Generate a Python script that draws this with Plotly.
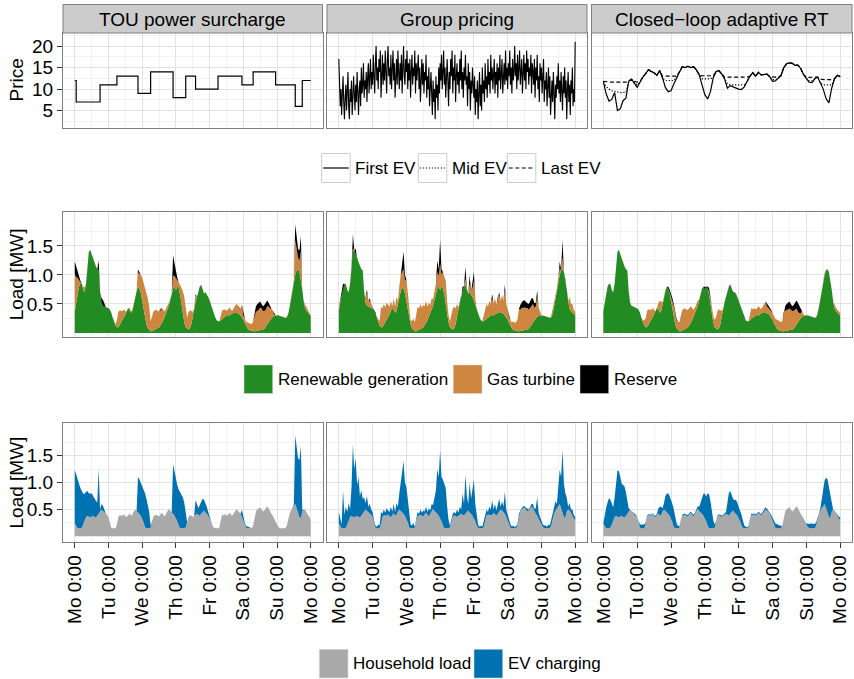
import plotly.graph_objects as go

# ---------------- data ----------------
HOURS = list(range(169))               # hourly time index (Mo 0:00 .. next Mo 0:00)
HALF_HOURS = [i / 2 for i in range(337)]  # half-hourly index for group pricing
HOURS_2H = list(range(0, 169, 2))      # 2-hourly index for closed-loop prices
DAY_TICKS = [0, 24, 48, 72, 96, 120, 144, 168]
DAY_LABELS = ["Mo 0:00", "Tu 0:00", "We 0:00", "Th 0:00", "Fr 0:00", "Sa 0:00", "Su 0:00", "Mo 0:00"]
PANEL_TITLES = ["TOU power surcharge", "Group pricing", "Closed\u2212loop adaptive RT"]

# TOU surcharge: step levels starting at given hours
TOU_STEP_HOURS = [0, 1, 18, 30, 45, 54, 70, 79, 86, 102, 119, 127, 143, 157, 162, 168]
TOU_STEP_PRICES = [12, 7, 11, 13, 9, 14, 8, 13, 10, 13, 11, 14, 11, 6, 12, 12]

GROUP_PRICE = [
    17, 12, 6, 10, 4, 9, 13, 7, 3, 8, 11, 5, 9, 14, 6, 3, 10, 7, 12, 4, 8, 13, 9, 5,
    11, 7, 14, 9, 4, 10, 12, 6, 15, 9, 11, 16, 8, 12, 10, 14, 7, 13, 16, 9, 12, 17, 10, 14,
    11, 18, 13, 9, 16, 20, 12, 15, 10, 17, 14, 19, 8, 13, 18, 11, 16, 12, 19, 14, 9, 17, 20, 13,
    15, 11, 18, 10, 14, 19, 12, 16, 8, 13, 17, 11, 19, 14, 10, 16, 12, 18, 9, 15, 20, 13, 11, 17,
    14, 19, 10, 16, 12, 17, 8, 14, 18, 11, 15, 13, 19, 9, 16, 12, 14, 18, 10, 15, 7, 13, 17, 11,
    16, 9, 14, 12, 18, 8, 13, 10, 15, 6, 11, 14, 9, 4, 12, 7, 10, 3, 13, 8, 11, 5, 15, 9,
    16, 12, 18, 10, 14, 19, 11, 15, 8, 13, 17, 12, 6, 14, 10, 17, 13, 19, 9, 15, 12, 18, 7, 13,
    16, 11, 14, 9, 17, 12, 19, 10, 14, 8, 15, 12, 18, 11, 13, 6, 16, 10, 14, 5, 12, 9, 15, 11,
    8, 13, 4, 10, 7, 12, 3, 9, 14, 6, 11, 5, 15, 9, 12, 7, 16, 10, 13, 8, 17, 11, 14, 9,
    18, 12, 15, 10, 13, 17, 9, 14, 11, 16, 8, 15, 12, 18, 10, 14, 17, 9, 13, 16, 11, 19, 12, 15,
    10, 16, 13, 19, 11, 15, 9, 17, 12, 14, 20, 13, 16, 10, 18, 12, 15, 19, 11, 14, 17, 9, 13, 18,
    12, 16, 10, 19, 14, 17, 11, 15, 13, 18, 9, 16, 14, 11, 17, 8, 15, 12, 18, 10, 13, 7, 16, 12,
    15, 9, 13, 17, 7, 12, 10, 14, 6, 11, 15, 8, 13, 4, 10, 12, 7, 14, 9, 3, 11, 8, 13, 10,
    16, 9, 12, 7, 14, 11, 5, 13, 9, 15, 8, 12, 3, 10, 14, 7, 11, 4, 12, 9, 15, 6, 10, 7,
    21]

CLOSED_FIRST = [
    11.8, 8.9, 7.2, 7.6, 9.2, 5.0, 5.4, 7.3, 7.9, 11.8, 12.3, 11.2,
    10.4, 11.6, 12.8, 13.6, 14.5, 14.1, 13.8, 13.2, 14.3, 12.6, 10.4, 9.4,
    9.6, 11.2, 12.7, 14.0, 15.2, 15.0, 15.3, 15.0, 15.2, 14.5, 13.3, 11.0,
    8.7, 7.7, 9.4, 12.7, 14.1, 14.3, 13.5, 12.4, 10.2, 10.8, 10.5, 10.2,
    10.0, 9.9, 10.5, 11.8, 13.0, 13.8, 13.0, 13.9, 13.3, 13.4, 13.5, 12.9,
    11.8, 11.9, 12.5, 13.1, 15.0, 15.9, 16.1, 16.0, 15.5, 15.6, 14.8, 13.4,
    12.5, 11.6, 11.5, 12.4, 12.8, 11.4, 10.0, 7.8, 6.8, 10.2, 12.4, 13.2,
    12.9]
CLOSED_MID = [
    11.6, 10.6, 10.0, 9.6, 9.5, 9.3, 9.2, 9.2, 9.3, 11.8, 12.3, 11.4,
    11.0, 11.6, 12.8, 13.6, 14.5, 14.1, 13.8, 13.2, 14.3, 12.6, 12.0, 12.0,
    12.0, 12.0, 12.7, 14.0, 15.2, 15.0, 15.3, 15.0, 15.2, 14.5, 13.3, 12.4,
    12.4, 12.4, 12.4, 12.7, 14.1, 14.3, 13.5, 12.4, 11.2, 11.0, 11.0, 11.0,
    11.0, 11.0, 11.0, 11.8, 13.0, 13.8, 13.0, 13.9, 13.3, 13.4, 13.5, 12.9,
    12.2, 12.2, 12.5, 13.1, 15.0, 15.9, 16.1, 16.0, 15.5, 15.6, 14.8, 13.4,
    12.5, 11.9, 11.9, 12.4, 12.8, 11.4, 11.0, 11.0, 11.0, 11.0, 12.4, 13.2,
    12.9]
CLOSED_LAST = [
    11.8, 11.7, 11.7, 11.6, 11.6, 11.6, 11.5, 11.5, 11.6, 11.8, 12.3, 11.8,
    11.6, 11.8, 12.8, 13.6, 14.5, 14.1, 13.8, 13.2, 14.3, 13.0, 13.0, 13.0,
    13.0, 13.0, 13.0, 14.0, 15.2, 15.0, 15.3, 15.0, 15.2, 14.5, 13.3, 13.1,
    13.1, 13.1, 13.1, 13.1, 14.1, 14.3, 13.5, 12.8, 12.8, 12.8, 12.8, 12.8,
    12.8, 12.8, 12.8, 12.8, 13.0, 13.8, 13.0, 13.9, 13.3, 13.4, 13.5, 12.9,
    12.8, 12.8, 12.8, 13.1, 15.0, 15.9, 16.1, 16.0, 15.5, 15.6, 14.8, 13.4,
    12.7, 12.7, 12.7, 12.7, 12.8, 12.3, 12.2, 12.2, 12.2, 12.2, 12.4, 13.2,
    12.9]

HOUSEHOLD = [
    0.24, 0.18, 0.15, 0.15, 0.15, 0.16, 0.22, 0.30, 0.36, 0.38, 0.36, 0.35, 0.37, 0.38, 0.36, 0.35, 0.38, 0.42, 0.48, 0.50, 0.47, 0.45, 0.43, 0.40,
    0.35, 0.26, 0.16, 0.15, 0.15, 0.15, 0.22, 0.36, 0.39, 0.38, 0.38, 0.41, 0.37, 0.36, 0.40, 0.43, 0.38, 0.40, 0.46, 0.50, 0.47, 0.45, 0.42, 0.38,
    0.33, 0.26, 0.17, 0.15, 0.15, 0.15, 0.16, 0.28, 0.37, 0.39, 0.40, 0.38, 0.37, 0.41, 0.44, 0.40, 0.37, 0.42, 0.48, 0.51, 0.47, 0.45, 0.42, 0.38,
    0.34, 0.28, 0.20, 0.15, 0.15, 0.15, 0.15, 0.16, 0.26, 0.36, 0.39, 0.38, 0.36, 0.38, 0.40, 0.42, 0.40, 0.38, 0.42, 0.46, 0.48, 0.44, 0.42, 0.38,
    0.34, 0.28, 0.20, 0.16, 0.15, 0.15, 0.15, 0.17, 0.30, 0.40, 0.39, 0.41, 0.38, 0.40, 0.44, 0.41, 0.38, 0.42, 0.46, 0.50, 0.48, 0.45, 0.42, 0.36,
    0.30, 0.22, 0.16, 0.15, 0.15, 0.15, 0.15, 0.20, 0.36, 0.46, 0.50, 0.52, 0.54, 0.50, 0.46, 0.48, 0.52, 0.56, 0.52, 0.46, 0.42, 0.38, 0.32, 0.26,
    0.22, 0.18, 0.15, 0.15, 0.15, 0.15, 0.15, 0.20, 0.32, 0.42, 0.48, 0.52, 0.58, 0.60, 0.52, 0.42, 0.36, 0.34, 0.46, 0.50, 0.48, 0.44, 0.38, 0.33,
    0.30]

EV_TOU = [
    0.99, 0.96, 0.90, 0.81, 0.75, 0.68, 0.57, 0.49, 0.47, 0.46, 0.44, 0.44, 0.43, 0.37, 0.33, 0.31, 0.25, 0.83, 0.02, 0.10, 0.10, 0.05, 0.00, 0.00,
    0.00, 0.00, 0.00, 0.00, 0.00, 0.00, 0.00, 0.00, 0.00, 0.00, 0.00, 0.00, 0.00, 0.00, 0.00, 0.00, 0.00, 0.00, 0.00, 0.00, 0.00, 0.65, 0.64, 0.62,
    0.62, 0.61, 0.63, 0.55, 0.45, 0.30, 0.04, 0.00, 0.00, 0.00, 0.00, 0.00, 0.00, 0.00, 0.00, 0.00, 0.00, 0.00, 0.00, 0.00, 0.00, 0.00, 0.92, 0.82,
    0.71, 0.67, 0.67, 0.67, 0.62, 0.57, 0.47, 0.29, 0.00, 0.00, 0.00, 0.00, 0.00, 0.00, 0.27, 0.18, 0.12, 0.20, 0.24, 0.24, 0.20, 0.18, 0.13, 0.07,
    0.01, 0.00, 0.00, 0.00, 0.00, 0.00, 0.00, 0.00, 0.00, 0.00, 0.00, 0.00, 0.00, 0.00, 0.00, 0.00, 0.00, 0.00, 0.00, 0.00, 0.00, 0.00, 0.00, 0.13,
    0.04, 0.04, 0.03, 0.03, 0.02, 0.02, 0.00, 0.00, 0.00, 0.00, 0.00, 0.00, 0.00, 0.00, 0.00, 0.00, 0.00, 0.00, 0.00, 0.00, 0.00, 0.00, 0.00, 0.00,
    0.00, 0.00, 0.00, 0.00, 0.00, 0.00, 0.00, 0.00, 0.00, 0.00, 0.00, 0.00, 0.00, 1.28, 1.08, 1.03, 1.06, 1.33, 0.03, 0.00, 0.01, 0.01, 0.02, 0.02,
    0.00]

EV_GROUP = [
    0.21, 0.12, 0.07, 0.70, 0.25, 0.39, 0.23, 0.32, 0.14, 0.52, 1.34, 0.90, 1.08, 0.57, 0.74, 0.40, 0.47, 0.28, 0.24, 0.12, 0.28, 0.10, 0.17, 0.10,
    0.10, 0.04, 0.04, 0.03, 0.07, 0.05, 0.23, 0.06, 0.11, 0.06, 0.14, 0.07, 0.08, 0.19, 0.06, 0.17, 0.07, 0.22, 0.09, 0.30, 0.53, 0.80, 0.98, 0.62,
    0.59, 0.44, 0.28, 0.07, 0.05, 0.10, 0.02, 0.07, 0.08, 0.03, 0.10, 0.06, 0.11, 0.05, 0.11, 0.05, 0.15, 0.06, 0.12, 0.07, 0.23, 0.40, 0.83, 0.72,
    1.26, 0.82, 0.85, 0.80, 0.75, 0.40, 0.15, 0.04, 0.04, 0.06, 0.06, 0.04, 0.14, 0.06, 0.15, 0.08, 0.40, 0.22, 0.72, 0.29, 0.12, 0.56, 0.28, 0.47,
    0.71, 0.32, 0.20, 0.06, 0.03, 0.05, 0.03, 0.13, 0.12, 0.10, 0.06, 0.14, 0.12, 0.27, 0.06, 0.19, 0.10, 0.20, 0.24, 0.05, 0.17, 0.10, 0.41, 0.14,
    0.10, 0.05, 0.06, 0.03, 0.05, 0.02, 0.04, 0.03, 0.05, 0.02, 0.03, 0.04, 0.02, 0.03, 0.05, 0.02, 0.03, 0.04, 0.08, 0.05, 0.10, 0.35, 0.12, 0.10,
    0.08, 0.04, 0.05, 0.05, 0.03, 0.07, 0.05, 0.10, 0.08, 0.08, 0.17, 0.08, 0.34, 0.63, 0.58, 1.18, 0.62, 0.46, 0.26, 0.05, 0.14, 0.06, 0.12, 0.07,
    0.06]

EV_CLOSED = [
    0.00, 0.22, 0.38, 0.48, 0.56, 0.52, 0.38, 0.24, 0.36, 0.60, 0.86, 0.87, 0.73, 0.60, 0.59, 0.58, 0.44, 0.20, 0.04, 0.00, 0.00, 0.00, 0.00, 0.00,
    0.00, 0.02, 0.06, 0.07, 0.07, 0.07, 0.03, 0.02, 0.02, 0.02, 0.02, 0.02, 0.02, 0.02, 0.02, 0.08, 0.17, 0.15, 0.06, 0.12, 0.28, 0.34, 0.38, 0.37,
    0.35, 0.34, 0.33, 0.21, 0.09, 0.04, 0.03, 0.02, 0.02, 0.03, 0.02, 0.02, 0.03, 0.02, 0.02, 0.03, 0.03, 0.02, 0.04, 0.05, 0.08, 0.18, 0.32, 0.41,
    0.45, 0.46, 0.60, 0.63, 0.50, 0.30, 0.15, 0.06, 0.02, 0.02, 0.02, 0.02, 0.02, 0.02, 0.02, 0.03, 0.22, 0.42, 0.42, 0.30, 0.22, 0.23, 0.26, 0.25,
    0.22, 0.20, 0.20, 0.14, 0.05, 0.03, 0.02, 0.02, 0.02, 0.03, 0.02, 0.02, 0.03, 0.02, 0.02, 0.03, 0.03, 0.03, 0.04, 0.04, 0.03, 0.03, 0.03, 0.04,
    0.05, 0.07, 0.08, 0.08, 0.07, 0.06, 0.04, 0.00, 0.00, 0.00, 0.00, 0.00, 0.00, 0.00, 0.00, 0.00, 0.00, 0.00, 0.00, 0.00, 0.00, 0.00, 0.00, 0.00,
    0.02, 0.05, 0.08, 0.09, 0.09, 0.09, 0.08, 0.06, 0.03, 0.02, 0.04, 0.18, 0.34, 0.44, 0.57, 0.64, 0.56, 0.41, 0.12, 0.00, 0.00, 0.00, 0.02, 0.04,
    0.05]

RENEWABLE = [
    0.38, 0.55, 0.70, 0.80, 0.85, 0.84, 0.74, 0.70, 0.85, 1.10, 1.40, 1.43, 1.35, 1.28, 1.22, 1.15, 1.10, 1.08, 0.72, 0.52, 0.47, 0.46, 0.45, 0.43,
    0.42, 0.40, 0.35, 0.26, 0.18, 0.13, 0.10, 0.10, 0.14, 0.18, 0.22, 0.27, 0.32, 0.38, 0.43, 0.40, 0.35, 0.38, 0.50, 0.63, 0.72, 0.79, 0.76, 0.69,
    0.55, 0.40, 0.26, 0.15, 0.08, 0.05, 0.03, 0.03, 0.04, 0.05, 0.06, 0.08, 0.10, 0.13, 0.17, 0.22, 0.28, 0.33, 0.40, 0.47, 0.57, 0.68, 0.76, 0.80,
    0.74, 0.80, 0.78, 0.66, 0.48, 0.32, 0.18, 0.10, 0.07, 0.06, 0.08, 0.15, 0.28, 0.42, 0.53, 0.62, 0.70, 0.80, 0.83, 0.74, 0.68, 0.70, 0.67, 0.62,
    0.56, 0.48, 0.42, 0.34, 0.27, 0.22, 0.20, 0.20, 0.22, 0.25, 0.27, 0.29, 0.30, 0.31, 0.30, 0.32, 0.33, 0.35, 0.36, 0.35, 0.34, 0.33, 0.30, 0.27,
    0.23, 0.17, 0.12, 0.08, 0.05, 0.04, 0.03, 0.03, 0.03, 0.03, 0.04, 0.04, 0.05, 0.05, 0.06, 0.07, 0.10, 0.14, 0.18, 0.22, 0.26, 0.28, 0.29, 0.30,
    0.30, 0.30, 0.29, 0.29, 0.28, 0.27, 0.26, 0.27, 0.33, 0.45, 0.60, 0.76, 0.90, 1.00, 1.08, 1.10, 1.05, 0.92, 0.75, 0.55, 0.42, 0.38, 0.35, 0.32,
    0.30]

RESERVE_TOU_HOURS = [0, 1, 2, 3, 4, 17, 19, 20, 21, 45, 46, 61, 70, 71, 72, 73, 86, 120,
                     128, 129, 130, 131, 132, 133, 134, 135, 136, 137, 138, 139, 157, 158, 159, 160, 161]
RESERVE_TOU_MW = [0.22, 0.18, 0.10, 0.05, 0.03, 0.17, 0.08, 0.10, 0.04, 0.06, 0.04, 0.03, 0.35, 0.22, 0.10, 0.04, 0.03, 0.05,
                  0.05, 0.10, 0.12, 0.12, 0.10, 0.08, 0.08, 0.10, 0.12, 0.10, 0.06, 0.04, 0.28, 0.20, 0.15, 0.18, 0.25]
RESERVE_GROUP_HOURS = [3, 10, 12, 14, 16, 18, 20, 22, 45, 46, 47, 70, 71, 72, 73, 88, 90, 93, 95, 96, 109, 114, 118,
                       129, 130, 131, 132, 133, 134, 135, 136, 137, 138, 139, 140, 141, 156, 157, 158, 159, 160]
RESERVE_GROUP_MW = [0.10, 0.25, 0.10, 0.05, 0.05, 0.05, 0.06, 0.04, 0.20, 0.30, 0.10, 0.20, 0.12, 0.40, 0.10, 0.08, 0.20, 0.15, 0.08, 0.15, 0.08, 0.06, 0.10,
                    0.08, 0.10, 0.12, 0.12, 0.10, 0.08, 0.10, 0.12, 0.12, 0.10, 0.08, 0.06, 0.10, 0.06, 0.12, 0.08, 0.30, 0.10]
RESERVE_CLOSED_HOURS = [18, 19, 46, 47, 48, 49, 50, 51, 52, 71, 72, 73, 74, 75, 76, 90, 91, 92, 93, 94, 116, 117, 118, 119,
                        129, 130, 131, 132, 133, 134, 135, 136, 137, 138, 139, 140, 150, 151]
RESERVE_CLOSED_MW = [0.03, 0.03, 0.04, 0.05, 0.05, 0.04, 0.04, 0.03, 0.03, 0.06, 0.08, 0.10, 0.10, 0.08, 0.06, 0.03, 0.04, 0.04, 0.03, 0.03,
                     0.05, 0.05, 0.05, 0.04, 0.08, 0.10, 0.12, 0.12, 0.10, 0.08, 0.10, 0.12, 0.14, 0.15, 0.12, 0.08, 0.03, 0.03]

for arr in (HOUSEHOLD, EV_TOU, EV_GROUP, EV_CLOSED, RENEWABLE):
    assert len(arr) == 169, len(arr)
assert len(GROUP_PRICE) == 337, len(GROUP_PRICE)
for arr in (CLOSED_FIRST, CLOSED_MID, CLOSED_LAST):
    assert len(arr) == 85, len(arr)

# ---------------- styling ----------------
W, H = 854, 679
FONT = "Liberation Sans, Arial, Helvetica, sans-serif"
GREEN, ORANGE, BLACK = "#228B22", "#CD853F", "#000000"
GREY_LOAD, BLUE = "#A9A9A9", "#0072B2"
BORDER = "#7F7F7F"
GRID_MAJ, GRID_MIN = "#E2E2E2", "#F2F2F2"
DASH = "4px,2.5px"
DOT = "1.2px,1.8px"

COL_X = [(63, 322.5), (327, 587), (591.5, 852)]
ROW_Y = [(33, 128), (211.7, 337), (423.3, 541.7)]
ROW_RANGE = [[0.95, 23.05], [-0.07, 2.09], [-0.1, 2.1]]

fig = go.Figure()


def axid(k, kind):
    return kind if k == 1 else f"{kind}{k}"


def panel(r, c):
    return r * 3 + c + 1


def load_stack(ev, res_hours, res_mw):
    reserve_in = [0.0] * len(HOURS)
    for h, v in zip(res_hours, res_mw):
        reserve_in[h] = v
    load = [a + b for a, b in zip(HOUSEHOLD, ev)]
    deficit = [max(l - g, 0.0) for l, g in zip(load, RENEWABLE)]
    reserve = [min(a, d) for a, d in zip(reserve_in, deficit)]
    gas = [d - a for d, a in zip(deficit, reserve)]
    return gas, reserve


# Row 1: prices
k = panel(0, 0)
fig.add_trace(go.Scatter(x=TOU_STEP_HOURS, y=TOU_STEP_PRICES, mode="lines", line=dict(color="black", width=1.2, shape="hv"),
                         xaxis=axid(k, "x"), yaxis=axid(k, "y")))
k = panel(0, 1)
fig.add_trace(go.Scatter(x=HALF_HOURS, y=GROUP_PRICE, mode="lines", line=dict(color="black", width=1.1),
                         xaxis=axid(k, "x"), yaxis=axid(k, "y")))
k = panel(0, 2)
for series, dash in ((CLOSED_FIRST, "solid"), (CLOSED_MID, DOT), (CLOSED_LAST, DASH)):
    fig.add_trace(go.Scatter(x=HOURS_2H, y=series, mode="lines", line=dict(color="black", width=1.2, dash=dash),
                             xaxis=axid(k, "x"), yaxis=axid(k, "y")))

# Rows 2 & 3: generation mix and load
EVS = [EV_TOU, EV_GROUP, EV_CLOSED]
RES = [(RESERVE_TOU_HOURS, RESERVE_TOU_MW), (RESERVE_GROUP_HOURS, RESERVE_GROUP_MW), (RESERVE_CLOSED_HOURS, RESERVE_CLOSED_MW)]
for c in range(3):
    gas, reserve = load_stack(EVS[c], *RES[c])
    k = panel(1, c)
    for vals, col in ((RENEWABLE, GREEN), (gas, ORANGE), (reserve, BLACK)):
        fig.add_trace(go.Scatter(x=HOURS, y=vals, mode="lines", stackgroup=f"gen{c}", line=dict(width=0, color=col),
                                 fillcolor=col, xaxis=axid(k, "x"), yaxis=axid(k, "y")))
    k = panel(2, c)
    for vals, col in ((HOUSEHOLD, GREY_LOAD), (EVS[c], BLUE)):
        fig.add_trace(go.Scatter(x=HOURS, y=vals, mode="lines", stackgroup=f"load{c}", line=dict(width=0, color=col),
                                 fillcolor=col, xaxis=axid(k, "x"), yaxis=axid(k, "y")))

# axes
layout = {}
for r in range(3):
    for c in range(3):
        k = panel(r, c)
        x0, x1 = COL_X[c]
        y0, y1 = ROW_Y[r]
        xa = dict(domain=[x0 / W, x1 / W], range=[-8.4, 176.4], tickvals=DAY_TICKS, ticktext=DAY_LABELS,
                  showticklabels=(r == 2), ticks="outside" if r == 2 else "", ticklen=5, tickcolor="#333333",
                  tickangle=-90, tickfont=dict(family=FONT, size=19, color="black"),
                  showgrid=True, gridcolor=GRID_MAJ, gridwidth=1,
                  minor=dict(tickvals=[12, 36, 60, 84, 108, 132, 156], showgrid=True, gridcolor=GRID_MIN, gridwidth=1),
                  showline=True, mirror=True, linecolor=BORDER, linewidth=1, zeroline=False,
                  anchor=axid(k, "y"), fixedrange=True)
        if r == 0:
            ymaj, ymin, ylab = [5, 10, 15, 20], [2.5, 7.5, 12.5, 17.5, 22.5], ["5", "10", "15", "20"]
        else:
            ymaj, ymin, ylab = [0.5, 1.0, 1.5], [0.25, 0.75, 1.25, 1.75], ["0.5", "1.0", "1.5"]
        ya = dict(domain=[1 - y1 / H, 1 - y0 / H], range=ROW_RANGE[r], tickvals=ymaj, ticktext=ylab,
                  showticklabels=(c == 0), ticks="outside" if c == 0 else "", ticklen=5, tickcolor="#333333",
                  tickfont=dict(family=FONT, size=19, color="black"),
                  showgrid=True, gridcolor=GRID_MAJ, gridwidth=1,
                  minor=dict(tickvals=ymin, showgrid=True, gridcolor=GRID_MIN, gridwidth=1),
                  showline=True, mirror=True, linecolor=BORDER, linewidth=1, zeroline=False,
                  anchor=axid(k, "x"), fixedrange=True)
        layout["xaxis" if k == 1 else f"xaxis{k}"] = xa
        layout["yaxis" if k == 1 else f"yaxis{k}"] = ya

fig.update_layout(**layout)

shapes = []
annotations = []


def ann(text, x, y, size, xanchor="center", angle=0):
    annotations.append(dict(text=text, x=x / W, y=1 - y / H, xref="paper", yref="paper", showarrow=False,
                            font=dict(family=FONT, size=size, color="black"), xanchor=xanchor, yanchor="middle",
                            textangle=angle, borderpad=0))


def rect(x0, y0, x1, y1, fill, line, lw=1):
    shapes.append(dict(type="rect", xref="paper", yref="paper", x0=x0 / W, x1=x1 / W, y0=1 - y1 / H, y1=1 - y0 / H,
                       fillcolor=fill, line=dict(color=line, width=lw), layer="above"))


# facet strips
for c, title in enumerate(PANEL_TITLES):
    x0, x1 = COL_X[c]
    rect(x0, 4.5, x1, 33, "#CCCCCC", BORDER)
    ann(title, (x0 + x1) / 2, 19, 19)

# axis titles
ann("Price", 16, (ROW_Y[0][0] + ROW_Y[0][1]) / 2, 19, angle=-90)
ann("Load [MW]", 16, (ROW_Y[1][0] + ROW_Y[1][1]) / 2, 19, angle=-90)
ann("Load [MW]", 16, (ROW_Y[2][0] + ROW_Y[2][1]) / 2, 19, angle=-90)

# legend 1 : line types
for bx, label, dash in ((321.7, "First EV", "solid"), (418.3, "Mid EV", DOT), (507.3, "Last EV", DASH)):
    rect(bx, 153.5, bx + 28.5, 182.5, "white", "#CCCCCC")
    shapes.append(dict(type="line", xref="paper", yref="paper", x0=(bx + 1.5) / W, x1=(bx + 27) / W,
                       y0=1 - 168 / H, y1=1 - 168 / H, line=dict(color="black", width=1.2, dash=dash), layer="above"))
    ann(label, bx + 32.5, 168, 17, xanchor="left")

# legend 2 : generation
for bx, label, col in ((244, "Renewable generation", GREEN), (453.3, "Gas turbine", ORANGE), (580, "Reserve", BLACK)):
    rect(bx, 365, bx + 28.7, 393.5, col, "#DDDDDD", 0.5)
    ann(label, bx + 32.7, 379, 17, xanchor="left")

# legend 3 : load
for bx, label, col in ((319.3, "Household load", GREY_LOAD), (474, "EV charging", BLUE)):
    rect(bx, 649.3, bx + 28.7, 678, col, "#DDDDDD", 0.5)
    ann(label, bx + 32.7, 663.5, 17, xanchor="left")

fig.update_layout(width=W, height=H, margin=dict(l=0, r=0, t=0, b=0), paper_bgcolor="white", plot_bgcolor="white",
                  showlegend=False, shapes=shapes, annotations=annotations, font=dict(family=FONT))

fig.write_html("out.html", config={"displayModeBar": False},
               post_script="document.body.style.margin='0';")
